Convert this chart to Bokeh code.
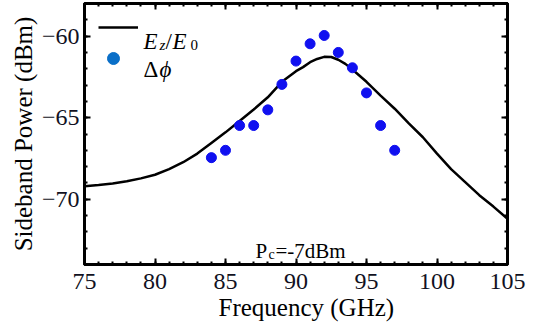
from bokeh.plotting import figure
from bokeh.models import (Range1d, SingleIntervalTicker, LinearAxis, CustomJSTickFormatter,
                          Legend, LegendItem, Label, Title, ColumnDataSource)
from bokeh.embed import file_html
from bokeh.resources import INLINE

# ---- data ----
curve_freq = [75, 76, 77, 78, 79, 80, 81, 82, 83, 84, 85, 86, 87, 88, 89, 90, 90.5, 91, 91.5,
              92, 92.5, 93, 93.5, 94, 95, 96, 97, 98, 99, 100, 101, 102, 103, 104, 105]
curve_power = [-69.2, -69.12, -69.03, -68.9, -68.72, -68.5, -68.15, -67.73, -67.2, -66.55, -65.9,
               -65.2, -64.5, -63.75, -62.8, -62.15, -61.9, -61.6, -61.4, -61.27, -61.28, -61.45,
               -61.7, -62.05, -62.8, -63.65, -64.45, -65.35, -66.2, -67.2, -68.15, -68.95,
               -69.75, -70.45, -71.2]
pt_freq = [84, 85, 86, 87, 88, 89, 90, 91, 92, 93, 94, 95, 96, 97]
pt_power = [-67.45, -67.0, -65.48, -65.48, -64.52, -62.96, -61.53, -60.47, -59.96, -61.0,
            -61.94, -63.48, -65.48, -67.0]
x_ticks_step = 5
y_ticks_step = 5

FONT = "Liberation Serif"

p = figure(frame_width=423, frame_height=261, output_backend="svg", toolbar_location=None,
           x_range=Range1d(75, 105), y_range=Range1d(-74, -58),
           min_border_left=84, min_border_right=23, min_border_top=3, min_border_bottom=58)
p.background_fill_color = "white"
p.border_fill_color = "white"
p.xgrid.visible = False
p.ygrid.visible = False
p.outline_line_color = "black"
p.outline_line_width = 3

fmt = CustomJSTickFormatter(code="return tick < 0 ? '\\u2212' + Math.abs(tick) : String(tick);")
blank = CustomJSTickFormatter(code="return '';")

def style_axis(ax, labels=True):
    ax.axis_line_color = "black"
    ax.axis_line_width = 3
    ax.major_tick_in = 6
    ax.major_tick_out = 0
    ax.minor_tick_in = 3
    ax.minor_tick_out = 0
    ax.major_tick_line_width = 2
    ax.minor_tick_line_width = 2
    ax.major_tick_line_color = "black"
    ax.minor_tick_line_color = "black"
    if labels:
        ax.major_label_text_font = FONT
        ax.major_label_text_font_size = "24px"
        ax.major_label_text_color = "#111122"
        ax.axis_label_text_font = FONT
        ax.axis_label_text_font_size = "25px"
        ax.axis_label_text_font_style = "normal"
        ax.axis_label_text_color = "black"
    else:
        ax.formatter = blank
        ax.major_label_standoff = 0
        ax.axis_label = None

xt = SingleIntervalTicker(interval=x_ticks_step, num_minor_ticks=5)
yt = SingleIntervalTicker(interval=y_ticks_step, num_minor_ticks=5)

p.xaxis.ticker = xt
p.yaxis.ticker = yt
p.yaxis.formatter = fmt
style_axis(p.xaxis[0])
style_axis(p.yaxis[0])
p.yaxis.axis_label = "Sideband Power (dBm)"
p.xaxis.major_label_standoff = 9
p.yaxis.major_label_standoff = 5
p.yaxis.axis_label_standoff = 2

# x-axis title as a below-title so it can be nudged horizontally like the reference
xtitle = Title(text="Frequency (GHz)", align="left", offset=134, standoff=0,
               text_font=FONT, text_font_size="25px", text_font_style="normal",
               text_color="black")
p.add_layout(xtitle, "below")

top = LinearAxis(ticker=SingleIntervalTicker(interval=x_ticks_step, num_minor_ticks=5))
right = LinearAxis(ticker=SingleIntervalTicker(interval=y_ticks_step, num_minor_ticks=5))
style_axis(top, labels=False)
style_axis(right, labels=False)
p.add_layout(top, "above")
p.add_layout(right, "right")

src_c = ColumnDataSource(dict(x=curve_freq, y=curve_power))
src_p = ColumnDataSource(dict(x=pt_freq, y=pt_power))
src_leg = ColumnDataSource(dict(x=pt_freq[:1], y=pt_power[:1]))
line_r = p.line("x", "y", source=src_c, line_color="black", line_width=2.5)
# legend-colour dot, hidden beneath the first data point (only supplies the legend glyph)
leg_dot = p.scatter("x", "y", source=src_leg, size=9, fill_color="#0A6FC8", line_color="#0A6FC8")
pts_r = p.scatter("x", "y", source=src_p, size=10, fill_color="#1010F0", line_color="#1010F0")

leg1 = Legend(items=[LegendItem(label=" ", renderers=[line_r])], location="top_left",
              margin=14, padding=0, glyph_width=40, glyph_height=20, border_line_color=None,
              background_fill_alpha=0, label_text_font_size="2px", label_standoff=0)
leg2 = Legend(items=[LegendItem(label=" ", renderers=[leg_dot])], location=(14, 261 - 70),
              margin=0, padding=0, glyph_width=30, glyph_height=30, border_line_color=None,
              background_fill_alpha=0, label_text_font_size="2px", label_standoff=0)
p.add_layout(leg1, "center")
p.add_layout(leg2, "center")

def lab(text, x, y, size, style="normal", align="left"):
    p.add_layout(Label(x=x, y=y, x_units="screen", y_units="screen", text=text,
                       text_font=FONT, text_font_size=size, text_font_style=style,
                       text_color="black", text_baseline="alphabetic", text_align=align))

# legend texts (frame-relative screen coords)
lab("E", 59, 261 - 38, "23px", "italic")
lab("z", 75, 261 - 41, "15px", "italic")
lab("/", 81, 261 - 38, "23px", "normal")
lab("E", 88, 261 - 38, "23px", "italic")
lab("0", 106, 261 - 41, "15px", "normal")
lab("\u0394", 59, 261 - 66, "23px", "normal")
lab("\u03d5", 75, 261 - 66, "23px", "italic")

# annotation
lab("P", 171, 261 - 247, "21px", "normal")
lab("c", 184, 261 - 251, "14px", "normal")
lab("=-7dBm", 191, 261 - 247, "21px", "normal")

html = file_html(p, INLINE)
open("out.html", "w").write(html)
